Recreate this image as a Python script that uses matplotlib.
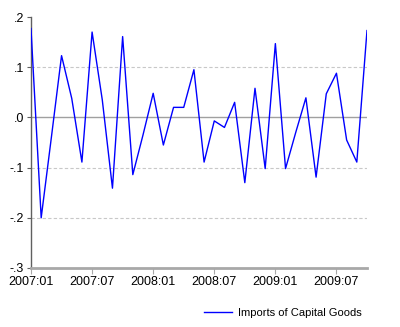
import matplotlib
matplotlib.use("Agg")
import matplotlib.pyplot as plt

# Monthly growth of imports of capital goods, 2007:01 - 2009:10
months = [f"{y}:{m:02d}" for y in (2007, 2008, 2009) for m in range(1, 13)][:34]
imports_capital_goods = [
    0.177, -0.200, -0.040, 0.123, 0.038, -0.089, 0.170, 0.035, -0.141, 0.161,
    -0.114, -0.035, 0.048, -0.055, 0.020, 0.020, 0.095, -0.089, -0.007, -0.020,
    0.030, -0.130, 0.058, -0.102, 0.147, -0.102, -0.030, 0.039, -0.119, 0.047,
    0.088, -0.045, -0.089, 0.173,
]
tick_months = ["2007:01", "2007:07", "2008:01", "2008:07", "2009:01", "2009:07"]
y_ticks = [0.2, 0.1, 0.0, -0.1, -0.2, -0.3]
y_labels = [".2", ".1", ".0", "-.1", "-.2", "-.3"]

plt.rcParams["font.family"] = ["Liberation Sans", "DejaVu Sans"]

fig = plt.figure(figsize=(4.0, 3.27), dpi=100)
ax = fig.add_axes([31 / 400, 1 - 268 / 327, 336 / 400, 251 / 327])

x = list(range(len(imports_capital_goods)))
for v in (0.1, -0.1, -0.2):
    ax.axhline(v, color="#c8c8c8", lw=0.8, ls=(0, (3, 2)), zorder=1)
ax.axhline(0.0, color="#a0a0a0", lw=1.0, zorder=1)

line, = ax.plot(x, imports_capital_goods, color="#0000ff", lw=1.0, zorder=3,
                label="Imports of Capital Goods")

ax.set_xlim(0, len(x) - 1)
ax.set_ylim(-0.3, 0.2)
ax.set_yticks(y_ticks)
ax.set_yticklabels(y_labels)
ax.set_xticks([months.index(t) for t in tick_months])
ax.set_xticklabels(tick_months)

for s in ("top", "right"):
    ax.spines[s].set_visible(False)
ax.spines["left"].set_color("#606060")
ax.spines["left"].set_linewidth(1.0)
ax.spines["bottom"].set_color("#a8a8a8")
ax.spines["bottom"].set_linewidth(2.0)
ax.tick_params(axis="y", length=3, width=0.8, color="#606060", labelsize=9, pad=2)
ax.tick_params(axis="x", length=4, width=0.8, color="#a8a8a8", labelsize=9, pad=2)

fig.legend(handles=[line], loc="center", bbox_to_anchor=(283 / 400, 1 - 313 / 327),
           frameon=False, fontsize=8, handlelength=2.5, handletextpad=0.6)

fig.savefig("out.png", dpi=100)
